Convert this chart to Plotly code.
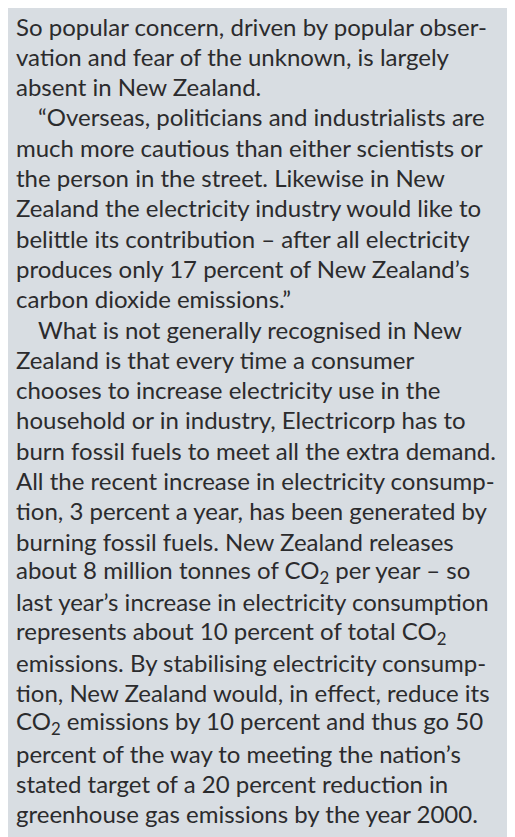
import plotly.graph_objects as go

# Text lines of the page, in reading order
lines = [
    "So popular concern, driven by popular obser-",
    "vation and fear of the unknown, is largely",
    "absent in New Zealand.",
    "“Overseas, politicians and industrialists are",
    "much more cautious than either scientists or",
    "the person in the street. Likewise in New",
    "Zealand the electricity industry would like to",
    "belittle its contribution – after all electricity",
    "produces only 17 percent of New Zealand’s",
    "carbon dioxide emissions.”",
    "What is not generally recognised in New",
    "Zealand is that every time a consumer",
    "chooses to increase electricity use in the",
    "household or in industry, Electricorp has to",
    "burn fossil fuels to meet all the extra demand.",
    "All the recent increase in electricity consump-",
    "tion, 3 percent a year, has been generated by",
    "burning fossil fuels. New Zealand releases",
    "about 8 million tonnes of CO<sub>2</sub> per year – so",
    "last year’s increase in electricity consumption",
    "represents about 10 percent of total CO<sub>2</sub>",
    "emissions. By stabilising electricity consump-",
    "tion, New Zealand would, in effect, reduce its",
    "CO<sub>2</sub> emissions by 10 percent and thus go 50",
    "percent of the way to meeting the nation’s",
    "stated target of a 20 percent reduction in",
    "greenhouse gas emissions by the year 2000.",
]
# lines that begin a paragraph (indented)
indented = [3, 10]

fig = go.Figure()
for i, txt in enumerate(lines):
    fig.add_annotation(
        x=28 if i in indented else 6, y=18 + 30.3 * i,
        xref="x", yref="y", text=txt, showarrow=False,
        xanchor="left", yanchor="middle", align="left",
        font=dict(family="Lato", size=24, color="#2b2b2d"),
    )

fig.update_xaxes(range=[0, 515], visible=False)
fig.update_yaxes(range=[837, 0], visible=False)
fig.update_layout(
    width=515, height=837, margin=dict(l=0, r=0, t=0, b=0),
    paper_bgcolor="#d8dde2", plot_bgcolor="#d8dde2",
)
fig.write_html("out.html")
